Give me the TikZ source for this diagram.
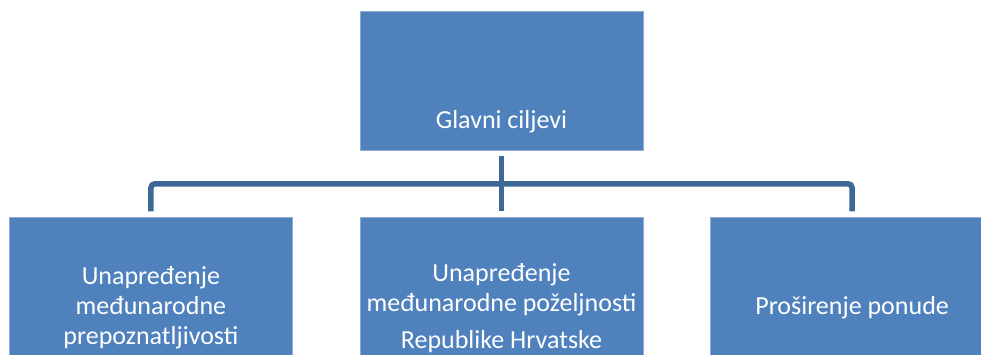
\documentclass[tikz,border=0pt]{standalone}
\usepackage{fontspec}
\setmainfont{Carlito}
\usepackage{tikz}
\usetikzlibrary{positioning}
\definecolor{boxblue}{RGB}{79,129,189}
\definecolor{boxedge}{RGB}{140,172,212}
\definecolor{linkblue}{RGB}{62,104,150}

\begin{document}
\begin{tikzpicture} [node distance=67pt,
    goalbox/.style={rectangle,fill=boxblue,draw=boxedge,line width=0.6pt,minimum width=283pt,inner sep=0pt},
    txt/.style={text=white,font=\fontsize{26}{30}\selectfont,align=center},
    link/.style={draw=linkblue,line width=5.5pt,rounded corners=4pt,shorten <=6pt,shorten >=6pt}]
  \useasboundingbox (0,0) rectangle (981pt,-354pt);
  \clip (0,0) rectangle (981pt,-354pt);
  \node [goalbox,minimum height=139pt] (goal) at (501.5pt,-80.5pt) {};
  \node [txt] (goaltext) at ([yshift=29pt]goal.south) {Glavni ciljevi};
  \node [goalbox,txt,minimum height=180pt,below=of goal] (mid) {Unapređenje\\ međunarodne poželjnosti\\[7pt] Republike Hrvatske};
  \node [goalbox,txt,minimum height=180pt,left=of mid] (left) {Unapređenje\\ međunarodne\\ prepoznatljivosti};
  \node [goalbox,txt,minimum height=180pt,right=of mid] (right) {Proširenje ponude};
  \coordinate (fork) at ([yshift=-33.5pt]goal.south);
  \draw [link] (goal.south) -- (mid.north);
  \draw [link] (left.north) |- (fork) -| (right.north);
\end{tikzpicture}
\end{document}
